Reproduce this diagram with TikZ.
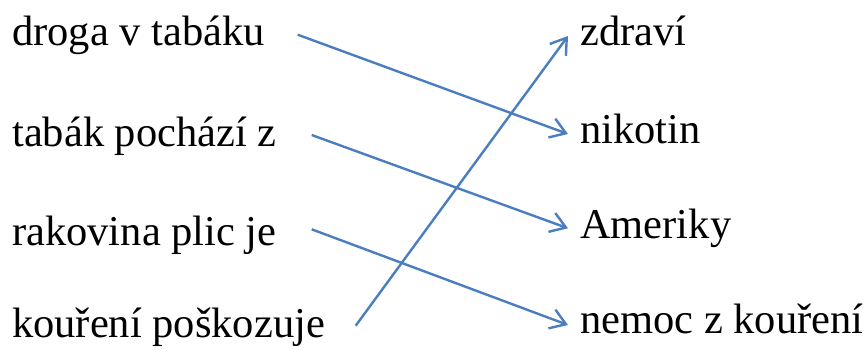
\documentclass[tikz,border=0pt]{standalone}
\usepackage{fontspec}
\setmainfont{LiberationSerif}[Extension=.ttf,UprightFont=*-Regular,BoldFont=*-Bold,ItalicFont=*-Italic,BoldItalicFont=*-BoldItalic]
\usetikzlibrary{arrows.meta}
\definecolor{lineblue}{RGB}{74,126,190}
\begin{document}
\begin{tikzpicture}[x=1pt,y=-1pt,
  lbl/.style={inner sep=0pt,anchor=base west,font=\fontsize{42.5}{50}\selectfont},
  conn/.style={draw=lineblue,line width=2.4pt,-{Straight Barb[length=15pt,width=20pt,line width=2.4pt]}}]
\useasboundingbox (0,0) rectangle (867,349);
\node[lbl] (l1) at (12,45.5) {droga v tabáku};
\node[lbl] (l2) at (12,146) {tabák pochází z};
\node[lbl] (l3) at (12,245) {rakovina plic je};
\node[lbl] (l4) at (12,337) {kouření poškozuje};
\node[lbl] (r1) at (580,45) {zdraví};
\node[lbl] (r2) at (580,143) {nikotin};
\node[lbl] (r3) at (580,238) {Ameriky};
\node[lbl] (r4) at (580,333) {nemoc z kouření};
\coordinate (s1) at (297.7,34.7);
\coordinate (e1) at (568,134);
\coordinate (s2) at (311.7,135);
\coordinate (e2) at (568,228.3);
\coordinate (s3) at (311.7,229.3);
\coordinate (e3) at (568,325);
\coordinate (s4) at (355.7,325.7);
\coordinate (e4) at (568,36);
\draw[conn] (s1) -- (e1);
\draw[conn] (s2) -- (e2);
\draw[conn] (s3) -- (e3);
\draw[conn] (s4) -- (e4);
\end{tikzpicture}
\end{document}
